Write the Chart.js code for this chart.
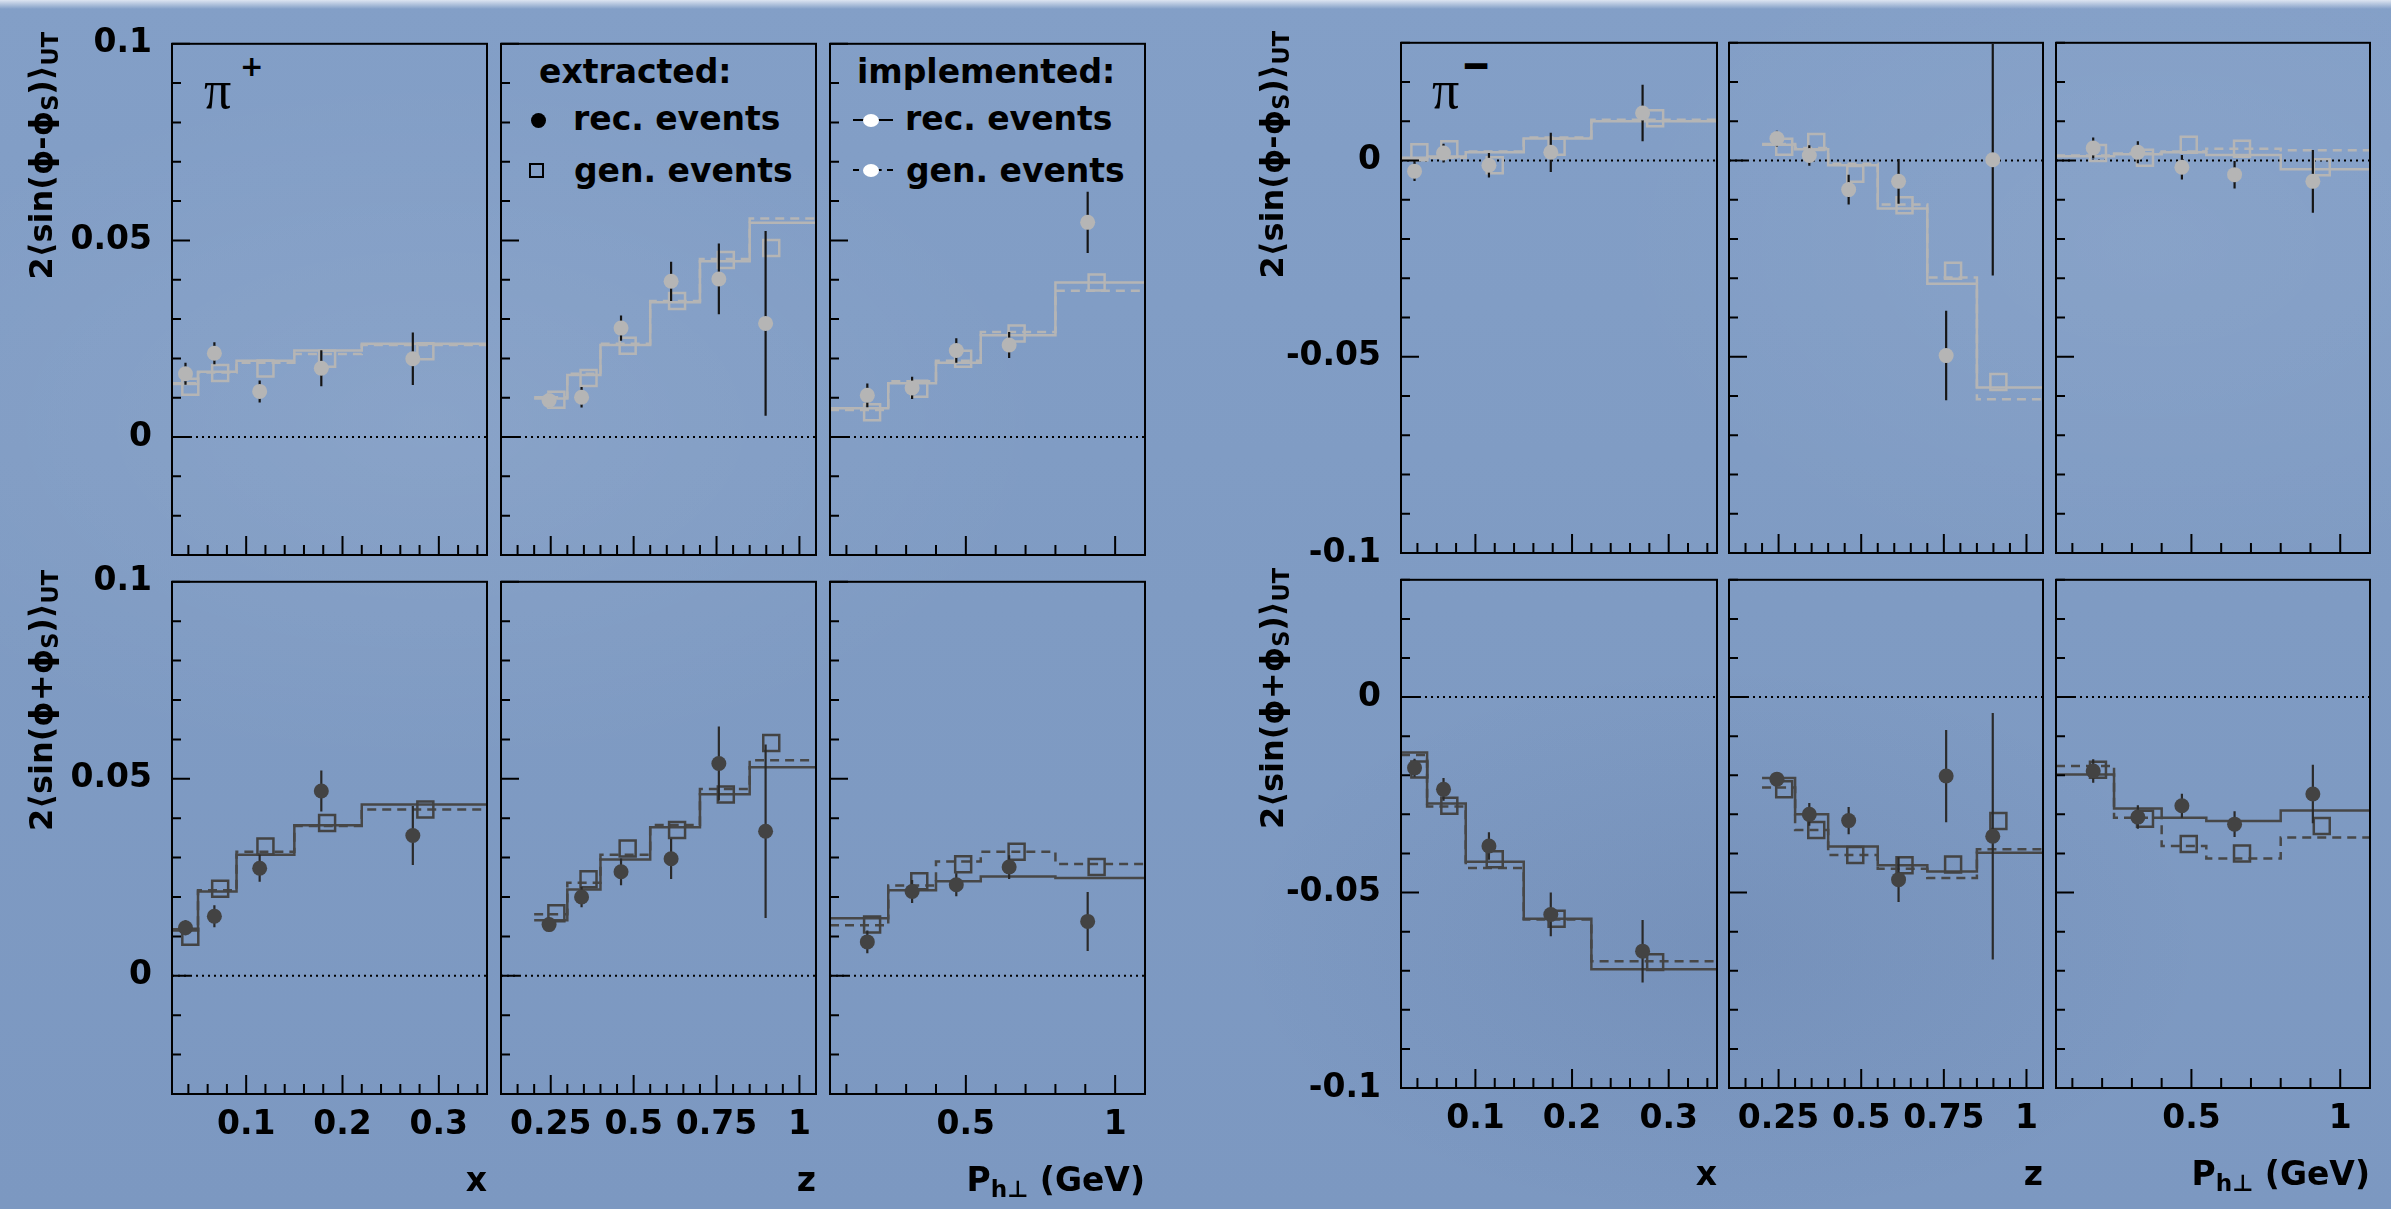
<!DOCTYPE html>
<html>
<head>
<meta charset="utf-8">
<title>sin(phi -/+ phiS) cross-check</title>
<script src="https://cdn.jsdelivr.net/npm/chart.js@4.4.1/dist/chart.umd.min.js"></script>
<style>
  html, body { margin: 0; padding: 0; }
  body {
    width: 2391px; height: 1209px; position: relative; overflow: hidden;
    background:
      radial-gradient(ellipse 900px 500px at 18% 35%, rgba(255,255,255,0.07), rgba(255,255,255,0) 70%),
      radial-gradient(ellipse 700px 400px at 72% 78%, rgba(20,40,90,0.07), rgba(20,40,90,0) 70%),
      radial-gradient(ellipse 800px 500px at 90% 20%, rgba(255,255,255,0.05), rgba(255,255,255,0) 70%),
      linear-gradient(180deg, #839fc7 0%, #7f9bc3 50%, #7c98c1 100%);
  }
  #streak { position: absolute; left: 0; top: 0; width: 2391px; height: 9px;
    background: linear-gradient(180deg, rgba(236,240,248,0.85), rgba(236,240,248,0)); }
  canvas { position: absolute; }
  .lbl { position: absolute; white-space: nowrap; line-height: 1; color: #000;
    font-family: 'DejaVu Sans', 'Liberation Sans', sans-serif; font-weight: bold; }
  .ytitle { font-size: 32px; width: 400px; text-align: right; transform-origin: 0 0; transform: rotate(-90deg); }
  .xtitle { font-size: 33px; text-align: right; }
  .leg { font-size: 33px; }
  .pi { font-family: 'Liberation Serif', 'DejaVu Serif', serif; font-weight: normal; font-size: 54px; }
  .sup { font-size: 28px; }
  .minus { font-size: 36px; transform: scaleY(1.4); transform-origin: 50% 60%; }
  sub { font-size: 0.7em; vertical-align: -0.28em; line-height: 0; }
  .dot { position: absolute; width: 15px; height: 15px; border-radius: 50%; background: #000; }
  .box { position: absolute; width: 15px; height: 15px; border: 2px solid #000; box-sizing: border-box; }
  .wdot { position: absolute; width: 16px; height: 13px; border-radius: 50%; background: #fff; }
  .ln { position: absolute; width: 40px; height: 0; border-top: 2px solid #000; }
  .ln.dash { border-top: 2px dashed #000; }
</style>
</head>
<body>
<div id="streak"></div>

<!-- legend: extracted -->
<div class="lbl leg" style="left:539px; top:55px;">extracted:</div>
<div class="dot" style="left:531px; top:113px;"></div>
<div class="lbl leg" style="left:573px; top:102px;">rec. events</div>
<div class="box" style="left:529px; top:163px;"></div>
<div class="lbl leg" style="left:574px; top:154px;">gen. events</div>

<!-- legend: implemented -->
<div class="lbl leg" style="left:857px; top:55px;">implemented:</div>
<div class="ln" style="left:853px; top:119px;"></div>
<div class="wdot" style="left:863px; top:114px;"></div>
<div class="lbl leg" style="left:905px; top:102px;">rec. events</div>
<div class="ln dash" style="left:853px; top:169px;"></div>
<div class="wdot" style="left:863px; top:164px;"></div>
<div class="lbl leg" style="left:906px; top:154px;">gen. events</div>

<!-- hadron labels -->
<div class="lbl pi" style="left:204px; top:63px;">π</div>
<div class="lbl sup" style="left:240px; top:53px;">+</div>
<div class="lbl pi" style="left:1432px; top:63px;">π</div>
<div class="lbl minus" style="left:1461px; top:49px;">−</div>

<script>
// ---------- kinematic binning ----------
const xBinEdges = [0.023, 0.05, 0.09, 0.15, 0.22, 0.35];
const zBinEdges = [0.2, 0.3, 0.4, 0.55, 0.7, 0.85, 1.05];
const ptBinEdges = [0.045, 0.24, 0.4, 0.55, 0.8, 1.1];

// mean kinematics of the points (squares drawn slightly shifted)
const xMeansRec = [0.037, 0.067, 0.114, 0.178, 0.273];
const xMeansGen = [0.042, 0.073, 0.120, 0.184, 0.286];
const zMeansRec = [0.245, 0.343, 0.462, 0.613, 0.757, 0.898];
const zMeansGen = [0.267, 0.364, 0.482, 0.631, 0.778, 0.915];
const ptMeansRec = [0.170, 0.320, 0.468, 0.645, 0.908];
const ptMeansGen = [0.186, 0.344, 0.491, 0.670, 0.938];

// tick labels
const xTickLabels = [0.1, 0.2, 0.3];
const zTickLabels = [0.25, 0.5, 0.75, 1];
const ptTickLabels = [0.5, 1];
const yTickLabelsPiPlus = [0, 0.05, 0.1];
const yTickLabelsPiMinus = [-0.1, -0.05, 0];

// ---------- pi+ : 2<sin(phi-phiS)>UT ----------
const pipDiffXRec = [0.0161, 0.0213, 0.0116, 0.0175, 0.0199];
const pipDiffXErr = [0.0028, 0.0028, 0.0028, 0.0046, 0.0067];
const pipDiffXGen = [0.0128, 0.0163, 0.0174, 0.0199, 0.0218];
const pipDiffXImplRec = [0.0135, 0.0166, 0.0194, 0.0220, 0.0237];
const pipDiffXImplGen = [0.0137, 0.0164, 0.0189, 0.0211, 0.0234];

const pipDiffZRec = [0.0093, 0.0101, 0.0277, 0.0396, 0.0402, 0.0289];
const pipDiffZErr = [0.0017, 0.0026, 0.0032, 0.0050, 0.0090, 0.0235];
const pipDiffZGen = [0.0095, 0.0150, 0.0232, 0.0346, 0.0450, 0.0481];
const pipDiffZImplRec = [0.0098, 0.0158, 0.0234, 0.0343, 0.0447, 0.0545];
const pipDiffZImplGen = [0.0101, 0.0161, 0.0237, 0.0346, 0.0453, 0.0556];

const pipDiffPtRec = [0.0106, 0.0125, 0.0220, 0.0234, 0.0546];
const pipDiffPtErr = [0.0030, 0.0028, 0.0031, 0.0033, 0.0078];
const pipDiffPtGen = [0.0063, 0.0123, 0.0199, 0.0263, 0.0393];
const pipDiffPtImplRec = [0.0073, 0.0137, 0.0189, 0.0259, 0.0393];
const pipDiffPtImplGen = [0.0069, 0.0142, 0.0194, 0.0267, 0.0372];

// ---------- pi+ : 2<sin(phi+phiS)>UT ----------
const pipSumXRec = [0.0122, 0.0151, 0.0273, 0.0469, 0.0356];
const pipSumXErr = [0.0019, 0.0028, 0.0034, 0.0052, 0.0075];
const pipSumXGen = [0.0099, 0.0221, 0.0328, 0.0388, 0.0422];
const pipSumXImplRec = [0.0115, 0.0214, 0.0307, 0.0382, 0.0435];
const pipSumXImplGen = [0.0118, 0.0217, 0.0315, 0.0380, 0.0422];

const pipSumZRec = [0.0130, 0.0200, 0.0264, 0.0297, 0.0539, 0.0367];
const pipSumZErr = [0.0018, 0.0026, 0.0034, 0.0051, 0.0094, 0.0220];
const pipSumZGen = [0.0159, 0.0245, 0.0323, 0.0370, 0.0460, 0.0591];
const pipSumZImplRec = [0.0141, 0.0219, 0.0295, 0.0377, 0.0461, 0.0529];
const pipSumZImplGen = [0.0156, 0.0236, 0.0307, 0.0383, 0.0474, 0.0547];

const pipSumPtRec = [0.0086, 0.0214, 0.0231, 0.0276, 0.0138];
const pipSumPtErr = [0.0029, 0.0029, 0.0029, 0.0030, 0.0075];
const pipSumPtGen = [0.0130, 0.0240, 0.0283, 0.0315, 0.0276];
const pipSumPtImplRec = [0.0146, 0.0217, 0.0240, 0.0252, 0.0248];
const pipSumPtImplGen = [0.0128, 0.0229, 0.0290, 0.0315, 0.0284];

// ---------- pi- : 2<sin(phi-phiS)>UT ----------
const pimDiffXRec = [-0.0027, 0.0019, -0.0012, 0.0021, 0.0121];
const pimDiffXErr = [0.0025, 0.0024, 0.0031, 0.0050, 0.0072];
const pimDiffXGen = [0.0021, 0.0029, -0.0012, 0.0035, 0.0108];
const pimDiffXImplRec = [0.0007, 0.0010, 0.0021, 0.0056, 0.0100];
const pimDiffXImplGen = [0.0004, 0.0007, 0.0023, 0.0059, 0.0104];

const pimDiffZRec = [0.0056, 0.0013, -0.0074, -0.0053, -0.0497, 0.0002];
const pimDiffZErr = [0.0020, 0.0026, 0.0038, 0.0057, 0.0114, 0.0295];
const pimDiffZGen = [0.0035, 0.0047, -0.0034, -0.0114, -0.0281, -0.0564];
const pimDiffZImplRec = [0.0040, 0.0029, -0.0012, -0.0122, -0.0314, -0.0578];
const pimDiffZImplGen = [0.0042, 0.0032, -0.0008, -0.0112, -0.0298, -0.0608];

const pimDiffPtRec = [0.0032, 0.0021, -0.0017, -0.0036, -0.0053];
const pimDiffPtErr = [0.0027, 0.0028, 0.0031, 0.0035, 0.0080];
const pimDiffPtGen = [0.0019, 0.0007, 0.0040, 0.0030, -0.0017];
const pimDiffPtImplRec = [0.0011, 0.0016, 0.0021, 0.0014, -0.0022];
const pimDiffPtImplGen = [0.0013, 0.0018, 0.0023, 0.0030, 0.0026];

// ---------- pi- : 2<sin(phi+phiS)>UT ----------
const pimSumXRec = [-0.0181, -0.0236, -0.0381, -0.0556, -0.0650];
const pimSumXErr = [0.0023, 0.0029, 0.0035, 0.0056, 0.0080];
const pimSumXGen = [-0.0185, -0.0278, -0.0415, -0.0567, -0.0678];
const pimSumXImplRec = [-0.0142, -0.0272, -0.0421, -0.0567, -0.0696];
const pimSumXImplGen = [-0.0148, -0.0280, -0.0437, -0.0569, -0.0676];

const pimSumZRec = [-0.0210, -0.0300, -0.0316, -0.0467, -0.0202, -0.0356];
const pimSumZErr = [0.0016, 0.0029, 0.0035, 0.0057, 0.0118, 0.0315];
const pimSumZGen = [-0.0236, -0.0340, -0.0404, -0.0430, -0.0428, -0.0317];
const pimSumZImplRec = [-0.0207, -0.0300, -0.0382, -0.0430, -0.0446, -0.0398];
const pimSumZImplGen = [-0.0231, -0.0340, -0.0404, -0.0439, -0.0463, -0.0389];

const pimSumPtRec = [-0.0189, -0.0307, -0.0278, -0.0325, -0.0248];
const pimSumPtErr = [0.0030, 0.0030, 0.0031, 0.0033, 0.0075];
const pimSumPtGen = [-0.0186, -0.0311, -0.0376, -0.0400, -0.0330];
const pimSumPtImplRec = [-0.0198, -0.0285, -0.0309, -0.0317, -0.0290];
const pimSumPtImplGen = [-0.0176, -0.0309, -0.0381, -0.0413, -0.0359];

// ---------- layout ----------
const FONT = "'DejaVu Sans', 'Liberation Sans', sans-serif";
const L = 150, T = 26, R = 12, B = 80;

const kin = {
  x:  { min: 0.023, max: 0.35, step: 0.02, labels: xTickLabels, edges: xBinEdges, rx: xMeansRec, gx: xMeansGen },
  z:  { min: 0.1,   max: 1.05, step: 0.05, labels: zTickLabels, edges: zBinEdges, rx: zMeansRec, gx: zMeansGen },
  pt: { min: 0.045, max: 1.1,  step: 0.1,  labels: ptTickLabels, edges: ptBinEdges, rx: ptMeansRec, gx: ptMeansGen }
};

const groups = [
  { cols: [[172, 487], [501, 816], [830, 1145]], rows: [[30, 555], [568, 1094]],
    yMin: -0.03, yMax: 0.1, yLabels: yTickLabelsPiPlus, titleX: 25, xTitleBase: 1191 },
  { cols: [[1401, 1717], [1729, 2043], [2056, 2370]], rows: [[29, 553], [566, 1088]],
    yMin: -0.1, yMax: 0.03, yLabels: yTickLabelsPiMinus, titleX: 1256, xTitleBase: 1185 }
];

const rowStyle = [
  { mark: '#b5b5b5', line: '#b5b5b5', err: '#151515' },
  { mark: '#434343', line: '#474747', err: '#2a2a2a' }
];

const panels = [
  { g: 0, r: 0, v: 'x',  d: [pipDiffXRec, pipDiffXErr, pipDiffXGen, pipDiffXImplRec, pipDiffXImplGen] },
  { g: 0, r: 0, v: 'z',  d: [pipDiffZRec, pipDiffZErr, pipDiffZGen, pipDiffZImplRec, pipDiffZImplGen] },
  { g: 0, r: 0, v: 'pt', d: [pipDiffPtRec, pipDiffPtErr, pipDiffPtGen, pipDiffPtImplRec, pipDiffPtImplGen] },
  { g: 0, r: 1, v: 'x',  d: [pipSumXRec, pipSumXErr, pipSumXGen, pipSumXImplRec, pipSumXImplGen] },
  { g: 0, r: 1, v: 'z',  d: [pipSumZRec, pipSumZErr, pipSumZGen, pipSumZImplRec, pipSumZImplGen] },
  { g: 0, r: 1, v: 'pt', d: [pipSumPtRec, pipSumPtErr, pipSumPtGen, pipSumPtImplRec, pipSumPtImplGen] },
  { g: 1, r: 0, v: 'x',  d: [pimDiffXRec, pimDiffXErr, pimDiffXGen, pimDiffXImplRec, pimDiffXImplGen] },
  { g: 1, r: 0, v: 'z',  d: [pimDiffZRec, pimDiffZErr, pimDiffZGen, pimDiffZImplRec, pimDiffZImplGen] },
  { g: 1, r: 0, v: 'pt', d: [pimDiffPtRec, pimDiffPtErr, pimDiffPtGen, pimDiffPtImplRec, pimDiffPtImplGen] },
  { g: 1, r: 1, v: 'x',  d: [pimSumXRec, pimSumXErr, pimSumXGen, pimSumXImplRec, pimSumXImplGen] },
  { g: 1, r: 1, v: 'z',  d: [pimSumZRec, pimSumZErr, pimSumZGen, pimSumZImplRec, pimSumZImplGen] },
  { g: 1, r: 1, v: 'pt', d: [pimSumPtRec, pimSumPtErr, pimSumPtGen, pimSumPtImplRec, pimSumPtImplGen] }
];

// ---------- helpers ----------
const near = (a, b) => Math.abs(a - b) < 1e-6;

function stepPoints(edges, vals) {
  const pts = vals.map((v, i) => ({ x: edges[i], y: v }));
  pts.push({ x: edges[edges.length - 1], y: vals[vals.length - 1] });
  return pts;
}

function errPoints(xs, ys, es) {
  const pts = [];
  xs.forEach((x, i) => {
    pts.push({ x: x, y: ys[i] - es[i] }, { x: x, y: ys[i] + es[i] }, { x: x, y: null });
  });
  return pts;
}

function minorTicks(step) {
  return function (scale) {
    const vals = [];
    const k0 = Math.ceil(scale.min / step - 1e-6);
    for (let k = k0; k * step <= scale.max + 1e-9; k++) vals.push(+(k * step).toFixed(4));
    scale.ticks = vals.map(v => ({ value: v }));
  };
}

// frame + inward ticks, ROOT style
const frameTicks = {
  id: 'frameTicks',
  afterDraw(chart, args, o) {
    const { ctx, chartArea: a, scales } = chart;
    ctx.save();
    ctx.strokeStyle = '#000';
    ctx.lineWidth = 2;
    ctx.beginPath();
    scales.y.ticks.forEach(t => {
      const py = scales.y.getPixelForValue(t.value);
      const len = o.yMajor.some(m => near(m, t.value)) ? 18 : 9;
      ctx.moveTo(a.left, py); ctx.lineTo(a.left + len, py);
    });
    scales.x.ticks.forEach(t => {
      const px = scales.x.getPixelForValue(t.value);
      const len = o.xMajor.some(m => near(m, t.value)) ? 19 : 10;
      ctx.moveTo(px, a.bottom); ctx.lineTo(px, a.bottom - len);
    });
    ctx.stroke();
    ctx.strokeRect(a.left, a.top, a.right - a.left, a.bottom - a.top);
    ctx.restore();
  }
};

function makePanel(p) {
  const grp = groups[p.g];
  const k = kin[p.v];
  const col = grp.cols[['x', 'z', 'pt'].indexOf(p.v)];
  const row = grp.rows[p.r];
  const st = rowStyle[p.r];
  const [rec, err, gen, iRec, iGen] = p.d;
  const showY = p.v === 'x';
  const showX = p.r === 1;

  const cv = document.createElement('canvas');
  const w = col[1] - col[0] + L + R;
  const h = row[1] - row[0] + T + B;
  cv.width = w; cv.height = h;
  cv.style.left = (col[0] - L) + 'px';
  cv.style.top = (row[0] - T) + 'px';
  document.body.appendChild(cv);

  const tickFont = { family: FONT, weight: 'bold', size: 33 };

  new Chart(cv, {
    type: 'scatter',
    data: {
      datasets: [
        { type: 'line', data: [{ x: k.min, y: 0 }, { x: k.max, y: 0 }], borderColor: '#000',
          borderWidth: 2, borderDash: [2, 4], pointRadius: 0, order: 4 },
        { type: 'line', data: stepPoints(k.edges, iGen), stepped: 'before', borderColor: st.line,
          borderWidth: 2.5, borderDash: [9, 6], pointRadius: 0, order: 3 },
        { type: 'line', data: stepPoints(k.edges, iRec), stepped: 'before', borderColor: st.line,
          borderWidth: 2.5, pointRadius: 0, order: 3 },
        { data: gen.map((y, i) => ({ x: k.gx[i], y: y })), pointStyle: 'rect', pointRadius: 11.3,
          backgroundColor: 'rgba(0,0,0,0)', borderColor: st.mark, borderWidth: 2.5, order: 2 },
        { type: 'line', data: errPoints(k.rx, rec, err), borderColor: st.err, borderWidth: 2.2,
          pointRadius: 0, spanGaps: false, order: 1 },
        { data: rec.map((y, i) => ({ x: k.rx[i], y: y })), pointStyle: 'circle', pointRadius: 7.5,
          backgroundColor: st.mark, borderWidth: 0, order: 0 }
      ]
    },
    options: {
      responsive: false,
      animation: false,
      devicePixelRatio: 1,
      events: [],
      layout: { autoPadding: false, padding: { top: T, right: R, left: 0, bottom: 0 } },
      plugins: {
        legend: { display: false },
        tooltip: { enabled: false },
        frameTicks: { xMajor: k.labels, yMajor: grp.yLabels }
      },
      scales: {
        x: {
          type: 'linear', min: k.min, max: k.max,
          afterFit: s => { s.height = B; },
          afterBuildTicks: minorTicks(k.step),
          grid: { display: false, drawTicks: false },
          border: { display: false },
          ticks: {
            autoSkip: false, maxRotation: 0, minRotation: 0, padding: 12,
            font: tickFont, color: '#000',
            callback: v => (showX && k.labels.some(m => near(m, v))) ? String(v) : ''
          }
        },
        y: {
          type: 'linear', min: grp.yMin, max: grp.yMax,
          afterFit: s => { s.width = L; },
          afterBuildTicks: minorTicks(0.01),
          grid: { display: false, drawTicks: false },
          border: { display: false },
          ticks: {
            autoSkip: false, padding: 20,
            font: tickFont, color: '#000',
            callback: v => (showY && grp.yLabels.some(m => near(m, v))) ? String(v) : ''
          }
        }
      }
    },
    plugins: [frameTicks]
  });
}

panels.forEach(makePanel);

// ---------- axis titles ----------
function addLabel(html, cls, style) {
  const d = document.createElement('div');
  d.className = 'lbl ' + cls;
  d.innerHTML = html;
  Object.assign(d.style, style);
  document.body.appendChild(d);
}

const yTitles = ['2⟨sin(ϕ-ϕ<sub>S</sub>)⟩<sub>UT</sub>', '2⟨sin(ϕ+ϕ<sub>S</sub>)⟩<sub>UT</sub>'];
const xTitles = ['x', 'z', 'P<sub>h⊥</sub> (GeV)'];

groups.forEach(grp => {
  grp.rows.forEach((row, r) => {
    addLabel(yTitles[r], 'ytitle', { left: grp.titleX + 'px', top: (row[0] + 2 + 400) + 'px' });
  });
  grp.cols.forEach((col, c) => {
    addLabel(xTitles[c], 'xtitle', { right: (2391 - col[1]) + 'px', top: (grp.xTitleBase - 28) + 'px' });
  });
});
</script>
</body>
</html>
